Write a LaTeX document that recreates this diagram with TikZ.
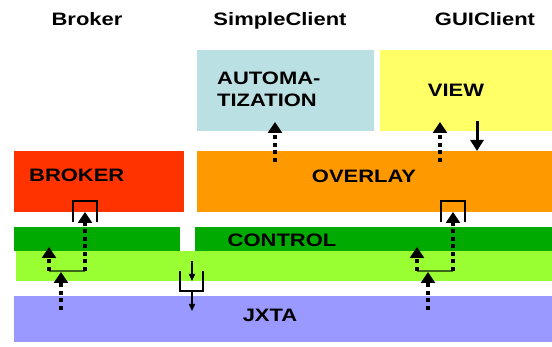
\documentclass[tikz,border=0pt]{standalone}
\usepackage{fontspec}
\setmainfont{Liberation Sans}[FakeStretch=1.22]
\usetikzlibrary{arrows.meta}
\definecolor{cAuto}{HTML}{BBE0E3}
\definecolor{cView}{HTML}{FFFF66}
\definecolor{cBroker}{HTML}{FF3300}
\definecolor{cOverlay}{HTML}{FF9900}
\definecolor{cControl}{HTML}{00AA00}
\definecolor{cLight}{HTML}{99FF33}
\definecolor{cJxta}{HTML}{9999FF}
\definecolor{cLink}{HTML}{3A6B1A}
\begin{document}
\begin{tikzpicture}[x=1pt,y=-1pt,
  lbl/.style={font=\bfseries\fontsize{18}{21}\selectfont, inner sep=0pt, anchor=base},
  lbll/.style={lbl, anchor=base west},
  dotarrow/.style={line width=4pt, dash pattern=on 4pt off 3.5pt, -{Triangle[width=14pt,length=11pt]}},
  solidarrow/.style={line width=3pt, -{Triangle[width=13pt,length=11pt]}},
  thinarrow/.style={line width=1.5pt, -{Triangle[width=6pt,length=7pt]}},
  bracket/.style={line width=2.5pt, line join=miter},
  thinbracket/.style={line width=1.8pt, line join=miter},
  hlink/.style={line width=1.5pt, cLink}]
\useasboundingbox (0,0) rectangle (552,347);
% layers
\fill[cAuto] (197,50) rectangle (374,131);
\fill[cView] (380,50) rectangle (552,131);
\fill[cBroker] (14,151) rectangle (184,212);
\fill[cOverlay] (197,151) rectangle (552,212);
\fill[cControl] (14,227) rectangle (180,251);
\fill[cControl] (195,227) rectangle (552,251);
\fill[cLight] (16,251) rectangle (552,281);
\fill[cJxta] (14,296) rectangle (552,342);
% headings
\node[lbl] (hb) at (87,26) {Broker};
\node[lbl] (hs) at (280,26) {SimpleClient};
\node[lbl] (hg) at (485,26) {GUIClient};
% layer labels
\node[lbll] (tauto1) at (217,85) {AUTOMA-};
\node[lbll] (tauto2) at (217,107) {TIZATION};
\node[lbl] (tview) at (456,97) {VIEW};
\node[lbll] (tbroker) at (29,182) {BROKER};
\node[lbl] (toverlay) at (364,183) {OVERLAY};
\node[lbl] (tcontrol) at (282,247) {CONTROL};
\node[lbl] (tjxta) at (270,322) {JXTA};
% coordinates
\coordinate (b0) at (61,310); \coordinate (b0t) at (61,272);
\coordinate (bl) at (49,271); \coordinate (blt) at (49,247);
\coordinate (br) at (85,271); \coordinate (brt) at (85,212);
\coordinate (g0) at (428,310); \coordinate (g0t) at (428,272);
\coordinate (gl) at (417,271); \coordinate (glt) at (417,247);
\coordinate (gr) at (453,271); \coordinate (grt) at (453,212);
\coordinate (a0) at (275,162); \coordinate (a0t) at (275,122);
\coordinate (v0) at (440,162); \coordinate (v0t) at (440,122);
\coordinate (d0) at (477,121); \coordinate (d0t) at (477,151);
\coordinate (m0) at (192,261); \coordinate (m0t) at (192,281);
\coordinate (m1) at (192,291); \coordinate (m1t) at (192,311);
% broker column
\draw[hlink] (bl) -- (br);
\draw[dotarrow] (b0) -- (b0t);
\draw[dotarrow] (bl) -- (blt);
\draw[dotarrow] (br) -- (brt);
\draw[bracket] (73,222) -- (73,201) -- (97,201) -- (97,222);
% GUI column
\draw[hlink] (gl) -- (gr);
\draw[dotarrow] (g0) -- (g0t);
\draw[dotarrow] (gl) -- (glt);
\draw[dotarrow] (gr) -- (grt);
\draw[bracket] (441,222) -- (441,201) -- (465,201) -- (465,222);
\draw[dotarrow] (v0) -- (v0t);
\draw[solidarrow] (d0) -- (d0t);
% simple client
\draw[dotarrow] (a0) -- (a0t);
% middle
\draw[thinarrow] (m0) -- (m0t);
\draw[thinbracket] (180,271) -- (180,291) -- (203,291) -- (203,271);
\draw[thinarrow] (m1) -- (m1t);
\end{tikzpicture}
\end{document}
